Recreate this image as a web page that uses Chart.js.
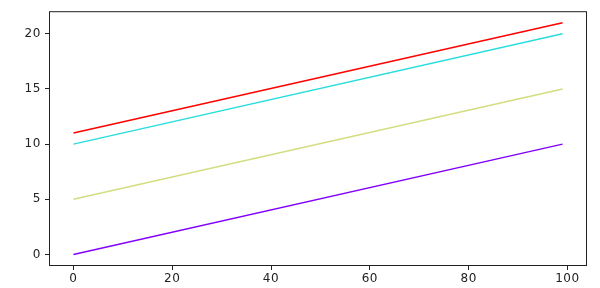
<!DOCTYPE html>
<html>
<head>
<meta charset="utf-8">
<script src="https://cdn.jsdelivr.net/npm/chart.js@4"></script>
<style>
  html, body { margin: 0; padding: 0; background: #fff; }
  canvas { display: block; }
</style>
</head>
<body>
<canvas id="chart" width="600" height="288"></canvas>
<script>
// x runs 0..99, every line is straight so its two ends are enough
const xEnds = [0, 99];
const purpleLine = [0, 10];
const greenLine = [5, 15];
const cyanLine = [10, 20];
const redLine = [11, 21];

const xTicks = [0, 20, 40, 60, 80, 100];
const yTicks = [0, 5, 10, 15, 20];

const toPoints = ys => ys.map((y, i) => ({ x: xEnds[i], y }));

// the reference text looks stretched sideways, a touch of letter spacing helps
const wideText = {
    id: 'wideText',
    beforeDraw(chart) {
        chart.ctx.letterSpacing = '0.6px';
    }
};

const frame = {
    id: 'frame',
    afterDraw(chart) {
        const { ctx, chartArea: a } = chart;
        ctx.save();
        ctx.strokeStyle = '#222';
        ctx.lineWidth = 1;
        ctx.strokeRect(a.left + 0.5, a.top + 0.5, a.right - a.left - 1, a.bottom - a.top - 1);
        ctx.restore();
    }
};

const line = (data, color) => ({
    data: toPoints(data),
    borderColor: color,
    borderWidth: 1.5,
    pointRadius: 0,
    tension: 0
});

new Chart(document.getElementById('chart').getContext('2d'), {
    type: 'line',
    data: {
        datasets: [
            line(purpleLine, '#8000ff'),
            line(greenLine, '#d4dd80'),
            line(cyanLine, '#2adddd'),
            line(redLine, '#ff0000')
        ]
    },
    options: {
        responsive: false,
        animation: false,
        layout: { padding: { top: 11, right: 13, left: 0, bottom: 0 } },
        plugins: {
            legend: { display: false },
            tooltip: { enabled: false }
        },
        scales: {
            x: {
                type: 'linear',
                min: -4.95,
                max: 103.95,
                afterBuildTicks: s => { s.ticks = xTicks.map(v => ({ value: v })); },
                afterFit: s => { s.height = 22; },
                grid: { drawOnChartArea: false, tickLength: 4, tickColor: '#222' },
                border: { display: false },
                ticks: {
                    color: '#222',
                    padding: 2,
                    maxRotation: 0,
                    font: { family: 'DejaVu Sans', size: 12 }
                }
            },
            y: {
                min: -1.05,
                max: 22.05,
                afterBuildTicks: s => { s.ticks = yTicks.map(v => ({ value: v })); },
                afterFit: s => { s.width = 49; },
                grid: { drawOnChartArea: false, tickLength: 4, tickColor: '#222' },
                border: { display: false },
                ticks: {
                    color: '#222',
                    padding: 4,
                    font: { family: 'DejaVu Sans', size: 12 }
                }
            }
        }
    },
    plugins: [wideText, frame]
});
</script>
</body>
</html>
